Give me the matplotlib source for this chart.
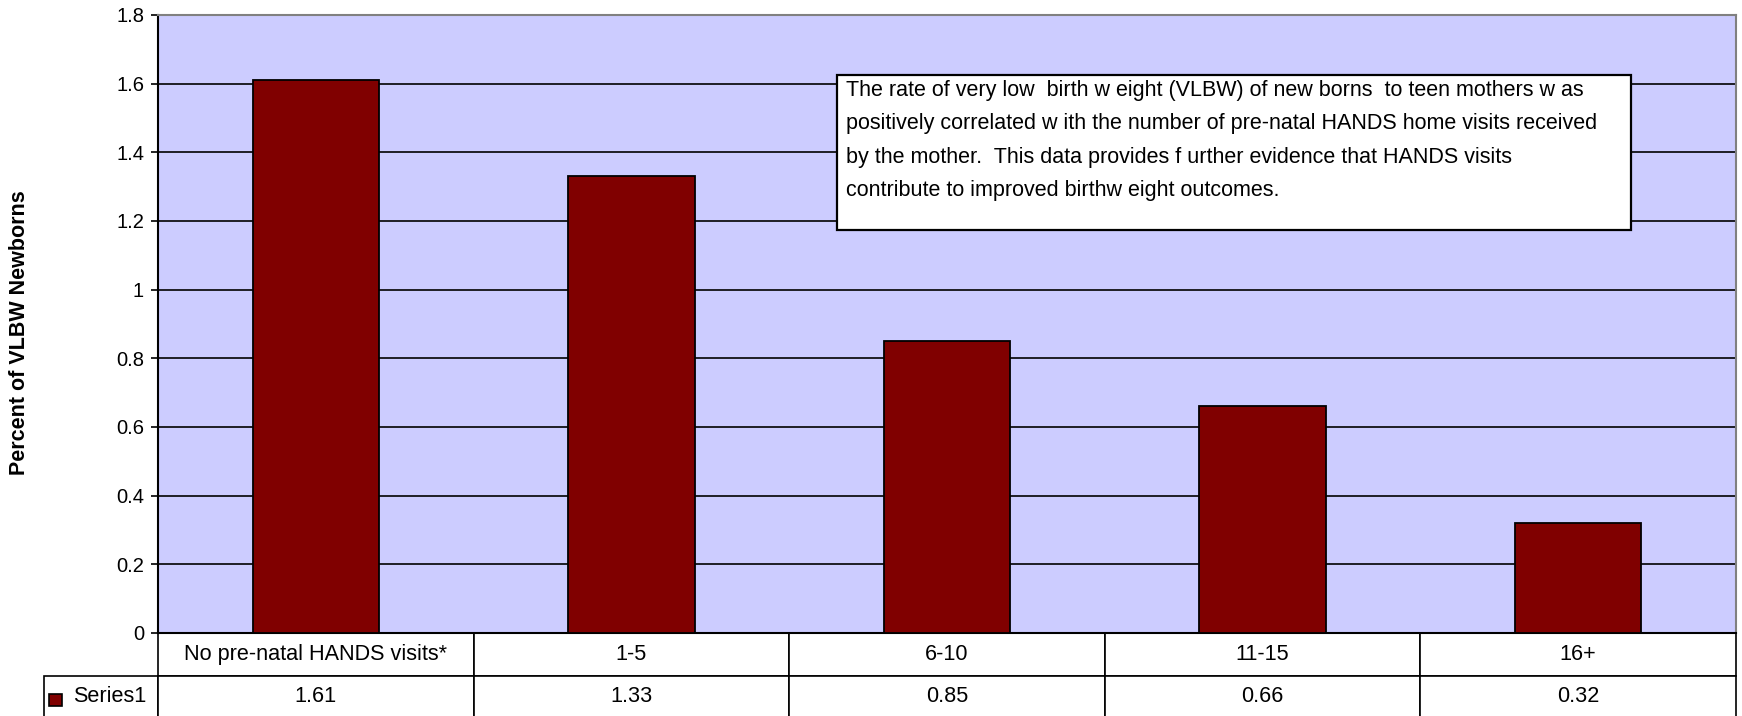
import matplotlib
matplotlib.use('Agg')
import matplotlib.pyplot as plt
from matplotlib.table import Table
from matplotlib.patches import Rectangle

plt.rcParams['font.family'] = ['Liberation Sans', 'DejaVu Sans']

# data
categories = ['No pre-natal HANDS visits*', '1-5', '6-10', '11-15', '16+']
vlbw_pct = [1.61, 1.33, 0.85, 0.66, 0.32]
series_name = 'Series1'
note = ("The rate of very low  birth w eight (VLBW) of new borns  to teen mothers w as\n"
        "positively correlated w ith the number of pre-natal HANDS home visits received\n"
        "by the mother.  This data provides f urther evidence that HANDS visits\n"
        "contribute to improved birthw eight outcomes.")
yticks = [0, 0.2, 0.4, 0.6, 0.8, 1.0, 1.2, 1.4, 1.6, 1.8]

bar_color = '#800000'
bg_color = '#CCCCFF'

fig = plt.figure(figsize=(17.42, 7.16), dpi=100)
W, H = 1742, 716
ax = fig.add_axes([158 / W, 1 - 633 / H, (1736 - 158) / W, (633 - 15) / H])
ax.set_facecolor(bg_color)

x = list(range(len(categories)))
ax.bar(x, vlbw_pct, width=0.4, color=bar_color, edgecolor='black', linewidth=1.3, zorder=3)

ax.set_xlim(-0.5, len(categories) - 0.5)
ax.set_ylim(0, 1.8)
ax.set_yticks(yticks)
ax.set_yticklabels(['%g' % v for v in yticks], fontsize=14.5)
ax.set_xticks([])
ax.tick_params(axis='y', direction='out', length=5, width=1.2, pad=5, colors='black')
ax.yaxis.grid(True, color='black', linewidth=1.2, zorder=1)
ax.set_axisbelow(True)

for s in ['top', 'right']:
    ax.spines[s].set_color('#808080')
    ax.spines[s].set_linewidth(1.5)
for s in ['left', 'bottom']:
    ax.spines[s].set_color('black')
    ax.spines[s].set_linewidth(1.5)

fig.text(20 / W, 1 - 333 / H, 'Percent of VLBW Newborns', rotation=90,
         ha='center', va='center', fontsize=15.5, fontweight='bold')

# annotation box
bx0, bx1 = (837 - 158) / 1578, (1631 - 158) / 1578
by0, by1 = (633 - 230) / 618, (633 - 75) / 618
ax.add_patch(Rectangle((bx0, by0), bx1 - bx0, by1 - by0, transform=ax.transAxes,
                       facecolor='white', edgecolor='black', linewidth=1.6, zorder=5))
ax.text(bx0 + 9 / 1578, by1 - 5 / 618, note, transform=ax.transAxes, ha='left', va='top',
        fontsize=15.5, linespacing=1.78, zorder=6)

# data table under the plot
lab_w = (158 - 44) / 1578
col_w = 1.0 / len(categories)
tb = Table(ax, bbox=[-lab_w, -(718 - 633) / 618, 1 + lab_w, (718 - 633) / 618])
tb.add_cell(0, 0, lab_w, 0.5, text='', loc='center').visible_edges = 'open'
for j, c in enumerate(categories):
    tb.add_cell(0, j + 1, col_w, 0.5, text=c, loc='center')
tb.add_cell(1, 0, lab_w, 0.5, text=series_name, loc='right')
for j, v in enumerate(vlbw_pct):
    tb.add_cell(1, j + 1, col_w, 0.5, text='%.2f' % v, loc='center')
tb.auto_set_font_size(False)
tb.set_fontsize(15.6)
for cell in tb.get_celld().values():
    cell.set_linewidth(1.2)
ax.add_table(tb)

# legend key in the table row label
ax.add_patch(Rectangle(((49 - 158) / 1578, (633 - 706) / 618), 13 / 1578, 12 / 618,
                       transform=ax.transAxes, facecolor=bar_color, edgecolor='black',
                       linewidth=1.2, clip_on=False, zorder=7))

fig.savefig('out.png', dpi=100)
